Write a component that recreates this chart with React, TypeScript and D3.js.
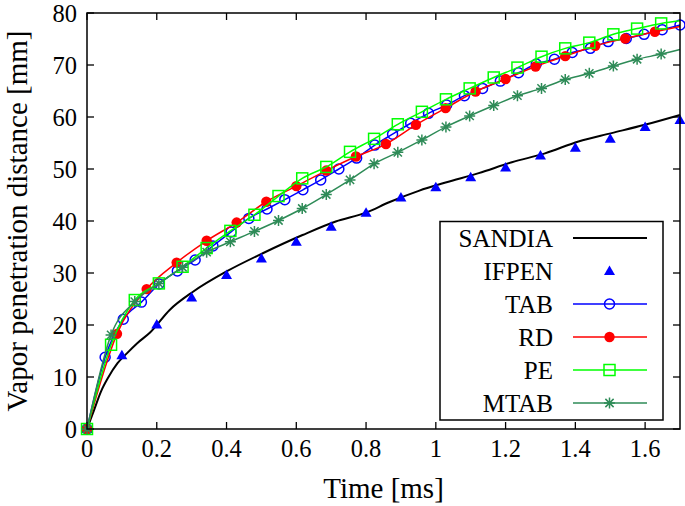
import React from "react";
import * as d3 from "d3";

// ---- Data ----
const sandiaX = [0, 0.01, 0.02, 0.04, 0.06, 0.087, 0.115, 0.144, 0.18, 0.237, 0.304, 0.4, 0.504, 0.618, 0.713, 0.8, 0.866, 0.951, 1.028, 1.123, 1.218, 1.313, 1.409, 1.504, 1.599, 1.7];
const sandiaY = [0, 1.8, 3.6, 7.2, 9.8, 12.6, 14.6, 16.5, 18.5, 22.9, 26.4, 30.3, 33.8, 37.3, 39.9, 41.6, 43.6, 45.8, 47.4, 49.2, 51.3, 53.0, 55.3, 56.9, 58.5, 60.4];

const ifpenX = [0, 0.1, 0.2, 0.3, 0.4, 0.5, 0.6, 0.7, 0.8, 0.9, 1.0, 1.1, 1.2, 1.3, 1.4, 1.5, 1.6, 1.7];
const ifpenY = [0, 14.2, 20.1, 25.3, 29.6, 32.8, 36.0, 38.9, 41.6, 44.5, 46.5, 48.4, 50.3, 52.6, 54.1, 55.8, 58.1, 59.4];

const tabX = [0, 0.052, 0.104, 0.156, 0.207, 0.259, 0.31, 0.361, 0.413, 0.464, 0.516, 0.567, 0.619, 0.67, 0.722, 0.773, 0.825, 0.876, 0.928, 0.979, 1.031, 1.082, 1.134, 1.185, 1.237, 1.288, 1.34, 1.391, 1.443, 1.494, 1.546, 1.597, 1.649, 1.7];
const tabY = [0, 13.8, 21.1, 24.4, 27.9, 30.4, 32.5, 35.2, 37.9, 40.5, 42.3, 44.1, 46.0, 47.9, 50.0, 52.1, 54.6, 56.7, 58.8, 60.7, 62.3, 64.1, 65.5, 66.9, 68.5, 70.2, 71.1, 72.4, 73.2, 74.5, 75.1, 75.9, 76.8, 77.7];

const rdX = [0, 0.086, 0.171, 0.257, 0.343, 0.429, 0.514, 0.6, 0.686, 0.771, 0.857, 0.943, 1.028, 1.114, 1.2, 1.286, 1.371, 1.457, 1.543, 1.628, 1.7];
const rdY = [0, 18.3, 26.9, 32.0, 36.2, 39.7, 43.7, 46.7, 49.7, 52.4, 54.8, 58.5, 61.7, 64.9, 67.3, 69.7, 71.7, 73.7, 75.1, 76.4, 77.4];
const rdMarkerCount = 20;

const peX = [0, 0.069, 0.137, 0.206, 0.274, 0.343, 0.411, 0.48, 0.549, 0.617, 0.686, 0.754, 0.823, 0.891, 0.96, 1.029, 1.097, 1.166, 1.234, 1.303, 1.371, 1.44, 1.509, 1.577, 1.646, 1.7];
const peY = [0, 16.2, 24.8, 28.0, 31.2, 34.8, 38.1, 41.2, 44.8, 48.2, 50.4, 53.3, 55.8, 58.6, 61.0, 63.4, 65.5, 67.6, 69.5, 71.6, 73.2, 74.3, 75.9, 77.0, 78.0, 78.5];
const peMarkerCount = 25;

const mtabX = [0, 0.069, 0.137, 0.206, 0.274, 0.343, 0.411, 0.48, 0.549, 0.617, 0.686, 0.754, 0.823, 0.891, 0.96, 1.029, 1.097, 1.166, 1.234, 1.303, 1.371, 1.44, 1.509, 1.577, 1.646, 1.7];
const mtabY = [0, 18.1, 24.5, 28.0, 31.1, 34.0, 36.0, 38.0, 40.1, 42.4, 45.1, 47.9, 51.0, 53.2, 55.6, 58.1, 60.2, 62.2, 64.1, 65.5, 67.2, 68.4, 69.8, 71.1, 72.1, 73.0];
const mtabMarkerCount = 25;

const xTicks = [0, 0.2, 0.4, 0.6, 0.8, 1, 1.2, 1.4, 1.6];
const yTicks = [0, 10, 20, 30, 40, 50, 60, 70, 80];
const legendLabels = ["SANDIA", "IFPEN", "TAB", "RD", "PE", "MTAB"];

const FONT = "Liberation Serif";

type Pt = [number, number];
const zip = (xs: number[], ys: number[]): Pt[] => xs.map((x, i) => [x, ys[i]]);

function Marker({ kind, x, y, color }: { kind: string; x: number; y: number; color: string }) {
  if (kind === "circle") return <circle cx={x} cy={y} r={5} fill="none" stroke={color} strokeWidth={1.5} />;
  if (kind === "dot") return <circle cx={x} cy={y} r={5.2} fill={color} stroke="none" />;
  if (kind === "square") return <rect x={x - 5.5} y={y - 5.5} width={11} height={11} fill="none" stroke={color} strokeWidth={1.5} />;
  if (kind === "tri") return <path d={`M${x},${y - 5.5}L${x + 5.5},${y + 4}L${x - 5.5},${y + 4}Z`} fill={color} />;
  if (kind === "star") {
    const s = 5.5;
    return (
      <path
        d={`M${x - s},${y}L${x + s},${y}M${x},${y - s}L${x},${y + s}M${x - s * 0.75},${y - s * 0.75}L${x + s * 0.75},${y + s * 0.75}M${x - s * 0.75},${y + s * 0.75}L${x + s * 0.75},${y - s * 0.75}`}
        stroke={color}
        strokeWidth={1.5}
        fill="none"
      />
    );
  }
  return null;
}

export default function App() {
  const W = 685, H = 506;
  const x = d3.scaleLinear().domain([0, 1.7]).range([87, 680]);
  const y = d3.scaleLinear().domain([0, 80]).range([429, 13]);
  const line = d3.line<Pt>().x((d) => x(d[0])).y((d) => y(d[1])).curve(d3.curveMonotoneX);

  const series = [
    { name: "TAB", pts: zip(tabX, tabY), color: "#0000ff", kind: "circle", n: tabX.length },
    { name: "RD", pts: zip(rdX, rdY), color: "#ff0000", kind: "dot", n: rdMarkerCount },
    { name: "PE", pts: zip(peX, peY), color: "#00ff00", kind: "square", n: peMarkerCount },
    { name: "MTAB", pts: zip(mtabX, mtabY), color: "#2e8b57", kind: "star", n: mtabMarkerCount },
  ];

  const x0 = x.range()[0], x1 = x.range()[1], y0 = y.range()[0], y1 = y.range()[1];
  const tl = 7;

  const legendRows = [
    { kind: "line", color: "#000000" },
    { kind: "tri", color: "#0000ff" },
    { kind: "circle", color: "#0000ff" },
    { kind: "dot", color: "#ff0000" },
    { kind: "square", color: "#00ff00" },
    { kind: "star", color: "#2e8b57" },
  ];

  const ts = { fontFamily: FONT };

  return (
    <svg width={W} height={H} style={{ position: "absolute", left: 0, top: 0, background: "#fff" }}>
      <rect x={0} y={0} width={W} height={H} fill="#fff" />
      {/* ticks */}
      {xTicks.map((t) => (
        <g key={"xt" + t}>
          <line x1={x(t)} x2={x(t)} y1={y0} y2={y0 - tl} stroke="#000" strokeWidth={1.3} />
          <line x1={x(t)} x2={x(t)} y1={y1} y2={y1 + tl} stroke="#000" strokeWidth={1.3} />
          <text x={x(t)} y={457} fontSize={24.5} textAnchor="middle" style={ts}>{String(t)}</text>
        </g>
      ))}
      {yTicks.map((t) => (
        <g key={"yt" + t}>
          <line x1={x0} x2={x0 + tl} y1={y(t)} y2={y(t)} stroke="#000" strokeWidth={1.3} />
          <line x1={x1} x2={x1 - tl} y1={y(t)} y2={y(t)} stroke="#000" strokeWidth={1.3} />
          <text x={77} y={y(t) + 8.5} fontSize={24.5} textAnchor="end" style={ts}>{String(t)}</text>
        </g>
      ))}

      {/* SANDIA */}
      <path d={line(zip(sandiaX, sandiaY)) || ""} fill="none" stroke="#000" strokeWidth={2} />
      {/* IFPEN */}
      {zip(ifpenX, ifpenY).map((p, i) => (
        <Marker key={"if" + i} kind="tri" x={x(p[0])} y={y(p[1])} color="#0000ff" />
      ))}
      {series.map((s) => (
        <g key={s.name}>
          <path d={line(s.pts) || ""} fill="none" stroke={s.color} strokeWidth={1.5} />
          {s.pts.slice(0, s.n).map((p, i) => (
            <Marker key={i} kind={s.kind} x={x(p[0])} y={y(p[1])} color={s.color} />
          ))}
        </g>
      ))}

      {/* frame */}
      <rect x={x0} y={y1} width={x1 - x0} height={y0 - y1} fill="none" stroke="#000" strokeWidth={1.5} />

      {/* legend */}
      <rect x={440} y={221.5} width={223} height={198.5} fill="#fff" stroke="#000" strokeWidth={1.5} />
      {legendLabels.map((lab, i) => {
        const ry = 238 + i * 33;
        const r = legendRows[i];
        return (
          <g key={lab}>
            <text x={553} y={ry + 8.5} fontSize={25} textAnchor="end" style={ts}>{lab}</text>
            {r.kind !== "tri" && (
              <line x1={573} x2={647} y1={ry} y2={ry} stroke={r.color} strokeWidth={r.kind === "line" ? 2 : 1.5} />
            )}
            {r.kind !== "line" && <Marker kind={r.kind} x={609.5} y={ry} color={r.color} />}
          </g>
        );
      })}

      {/* axis titles */}
      <text x={(x0 + x1) / 2} y={498} fontSize={29} textAnchor="middle" style={ts}>Time [ms]</text>
      <text transform={`translate(27,${(y0 + y1) / 2}) rotate(-90)`} fontSize={29} textAnchor="middle" style={ts}>Vapor penetration distance [mm]</text>
    </svg>
  );
}
